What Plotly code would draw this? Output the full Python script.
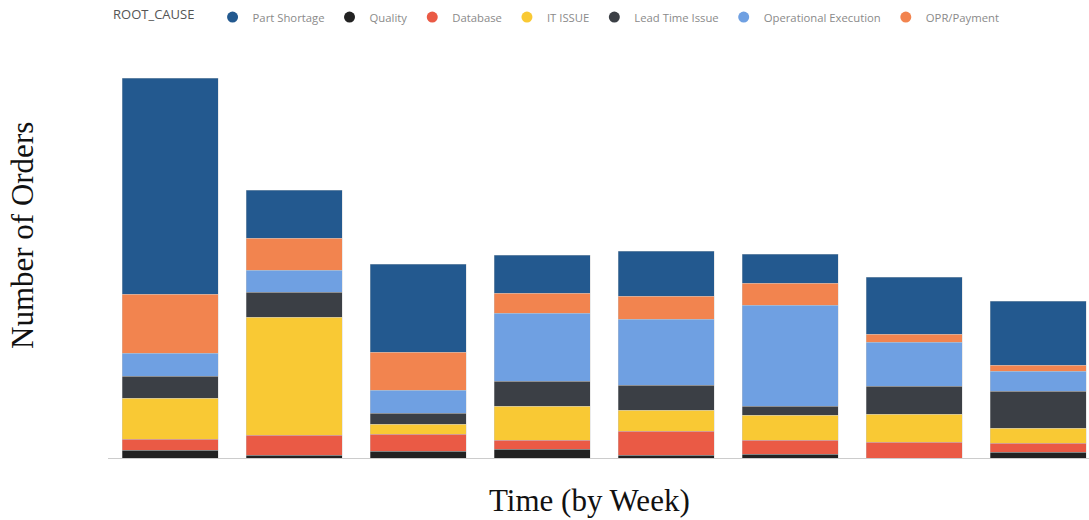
import plotly.graph_objects as go

weeks = ["W1", "W2", "W3", "W4", "W5", "W6", "W7", "W8"]

# stacking order bottom -> top
quality = [8, 3, 7, 9, 3, 4, 0, 6]
database = [11, 20, 17, 9, 24, 14, 16, 9]
it_issue = [41, 118, 10, 34, 21, 25, 28, 15]
lead_time = [22, 25, 11, 25, 25, 9, 28, 37]
op_exec = [23, 22, 23, 68, 66, 101, 44, 20]
opr_payment = [59, 32, 38, 20, 23, 22, 8, 6]
part_shortage = [216, 48, 88, 38, 45, 29, 57, 64]

legend_order = ["Part Shortage", "Quality", "Database", "IT ISSUE",
                "Lead Time Issue", "Operational Execution", "OPR/Payment"]
colors = {
    "Part Shortage": "#23598f",
    "Quality": "#222222",
    "Database": "#ea5a45",
    "IT ISSUE": "#f9c934",
    "Lead Time Issue": "#3b3f45",
    "Operational Execution": "#6fa0e2",
    "OPR/Payment": "#f2844f",
}
stack = [("Quality", quality), ("Database", database), ("IT ISSUE", it_issue),
         ("Lead Time Issue", lead_time), ("Operational Execution", op_exec),
         ("OPR/Payment", opr_payment), ("Part Shortage", part_shortage)]

fig = go.Figure()
for name in legend_order:
    fig.add_trace(go.Scatter(x=[weeks[0]], y=[None], mode="markers", name=name,
                             marker=dict(symbol="circle", size=11, color=colors[name])))
for name, vals in stack:
    fig.add_trace(go.Bar(x=weeks, y=vals, name=name, showlegend=False,
                         marker=dict(color=colors[name], line=dict(width=0.6, color="rgba(200,200,200,0.6)"))))

fig.update_layout(
    width=1089, height=520,
    barmode="stack", bargap=0.226,
    plot_bgcolor="white", paper_bgcolor="white",
    margin=dict(l=108, r=0, t=50, b=62),
    showlegend=True,
    legend=dict(orientation="h", x=0.102, xref="container", xanchor="left", y=0.995, yref="container",
                yanchor="top", traceorder="normal",
                font=dict(family="Open Sans", size=11.3, color="#8a8a8a"),
                title=dict(text="ROOT_CAUSE   ", font=dict(family="Open Sans", size=13, color="#555555")),
                itemwidth=30, tracegroupgap=0,
                bgcolor="rgba(0,0,0,0)"),
    xaxis=dict(type="category", range=[-0.5, 7.41], showticklabels=False, showgrid=False, zeroline=False,
               showline=False, ticks=""),
    yaxis=dict(range=[0, 408], showticklabels=False, showgrid=False, zeroline=True,
               zerolinecolor="#cccccc", zerolinewidth=1, showline=False, ticks=""),
    annotations=[
        dict(text="Number of Orders", x=23, y=236, xref="paper", yref="paper", showarrow=False,
             xanchor="center", yanchor="middle",
             textangle=-90, font=dict(family="Liberation Serif", size=31, color="#111")),
        dict(text="Time (by Week)", x=589, y=500, xref="paper", yref="paper", showarrow=False,
             xanchor="center", yanchor="middle",
             font=dict(family="Liberation Serif", size=31, color="#111")),
    ],
)
# convert pixel positions of annotations into paper coords
pl, pr, pt, pb = 108, 0, 50, 62
W, H = 1089, 520
for a in fig.layout.annotations:
    px, py = a.x, a.y
    a.x = (px - pl) / (W - pl - pr)
    a.y = 1 - (py - pt) / (H - pt - pb)
fig.write_html("out.html")
